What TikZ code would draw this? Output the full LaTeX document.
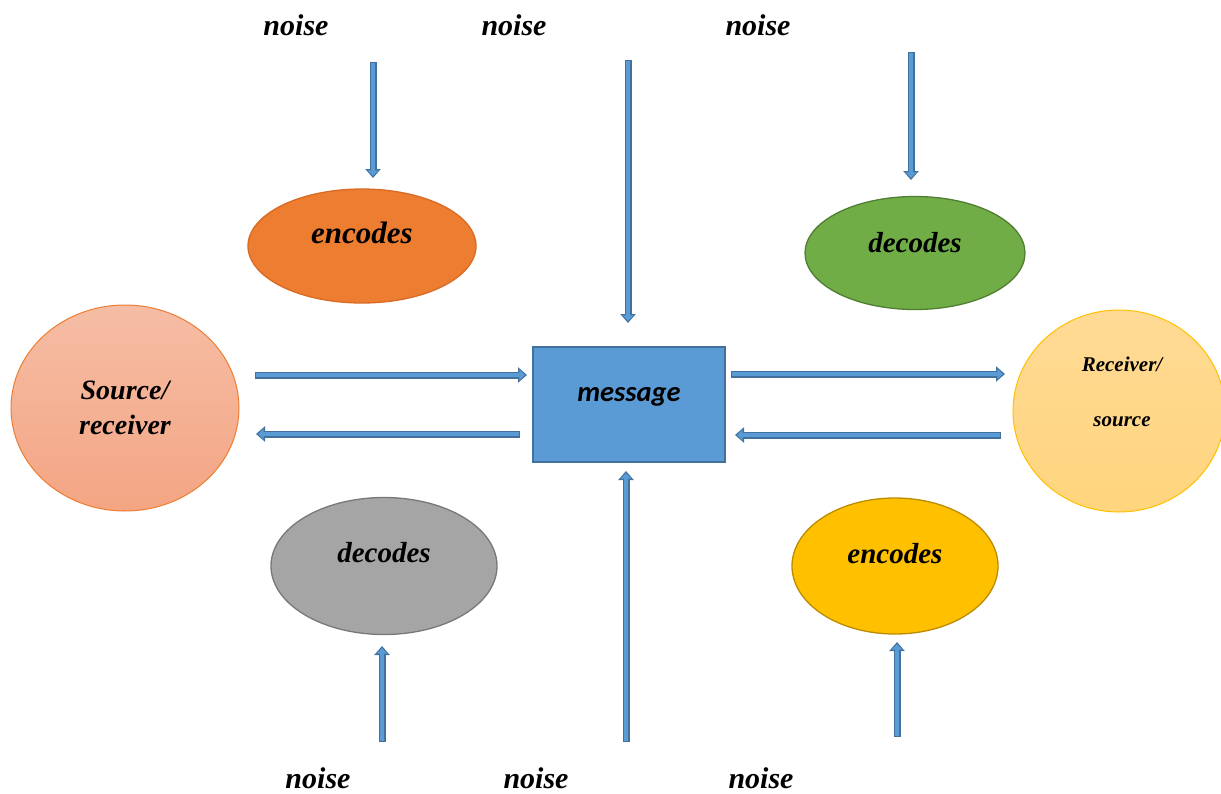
\documentclass[tikz,border=0pt]{standalone}
\usepackage{fontspec}
\setmainfont{Liberation Serif}
\newfontfamily\calib{Carlito}
\usetikzlibrary{shapes.geometric,arrows.meta}
\definecolor{edgeblue}{HTML}{41719C}
\definecolor{fillblue}{HTML}{5B9BD5}
\definecolor{orangeF}{HTML}{ED7D31}
\definecolor{orangeD}{HTML}{D86A22}
\definecolor{greenF}{HTML}{70AD47}
\definecolor{greenD}{HTML}{507E32}
\definecolor{grayF}{HTML}{A5A5A5}
\definecolor{grayD}{HTML}{787878}
\definecolor{yellowF}{HTML}{FFC000}
\definecolor{yellowD}{HTML}{BC8C00}
\definecolor{salmonT}{HTML}{F5BDA5}
\definecolor{salmonB}{HTML}{F4A583}
\definecolor{paleT}{HTML}{FFDA95}
\definecolor{paleB}{HTML}{FFD57D}
\tikzset{
  lbl/.style={font=\bfseries\itshape\fontsize{30}{36}\selectfont, inner sep=0pt},
  oval/.style={ellipse, line width=1.3pt, inner sep=0pt},
  barrow/.style={draw=fillblue, line width=4.2pt, shorten >=2pt, shorten <=1.4pt,
    -{Triangle[width=10.5pt,length=5.6pt]},
    preaction={draw=edgeblue, line width=7pt, shorten >=0pt, shorten <=0pt,
      -{Triangle[width=15pt,length=9pt]}}},
}
\begin{document}
\begin{tikzpicture}[x=1pt,y=-1pt]
\useasboundingbox (0,0) rectangle (1221,793);
% noise labels
\node[lbl] (nt1) at (296,25) {noise};
\node[lbl] (nt2) at (514,25) {noise};
\node[lbl] (nt3) at (758,25) {noise};
\node[lbl] (nb1) at (318,778) {noise};
\node[lbl] (nb2) at (536,778) {noise};
\node[lbl] (nb3) at (761,778) {noise};
% ellipses
\node[oval, fill=orangeF, draw=orangeD, minimum width=228pt, minimum height=114pt,
  label={[lbl, font=\bfseries\itshape\fontsize{31}{36}\selectfont, yshift=13pt]center:encodes}] (enc1) at (362,246) {};
\node[oval, fill=greenF, draw=greenD, minimum width=220pt, minimum height=113pt,
  label={[lbl, font=\bfseries\itshape\fontsize{29}{36}\selectfont, yshift=10pt]center:decodes}] (dec1) at (915,253) {};
\node[oval, fill=grayF, draw=grayD, minimum width=226pt, minimum height=137pt,
  label={[lbl, font=\bfseries\itshape\fontsize{29}{36}\selectfont, yshift=13pt]center:decodes}] (dec2) at (384,566) {};
\node[oval, fill=yellowF, draw=yellowD, minimum width=206pt, minimum height=136pt,
  label={[lbl, font=\bfseries\itshape\fontsize{29}{36}\selectfont, yshift=12pt]center:encodes}] (enc2) at (895,566) {};
\node[oval, draw=orangeF, line width=1pt, top color=salmonT, bottom color=salmonB,
  minimum width=228pt, minimum height=206pt, align=center,
  font=\bfseries\itshape\fontsize{28}{35}\selectfont] (src) at (125,408) {Source/\\receiver};
\node[oval, draw=yellowF, line width=1pt, top color=paleT, bottom color=paleB,
  minimum width=212pt, minimum height=202pt,
  label={[align=center, inner sep=0pt, xshift=3pt, yshift=19pt,
    font=\bfseries\itshape\fontsize{21}{55}\selectfont]center:Receiver/\\source}] (rcv) at (1119,411) {};
% message
\node[draw=edgeblue, fill=fillblue, line width=1.5pt, minimum width=192pt, minimum height=115pt,
  font=\calib\bfseries\itshape\fontsize{28.5}{34}\selectfont, inner sep=0pt] (msg) at (629,404.5) {\raisebox{20pt}{message}};
% coordinates for arrow ends
\coordinate (a1s) at (373,62);  \coordinate (a1e) at (373,178);
\coordinate (a2s) at (628,60);  \coordinate (a2e) at (628,323);
\coordinate (a3s) at (911,52);  \coordinate (a3e) at (911,180);
\coordinate (b1s) at (382,742); \coordinate (b1e) at (382,646);
\coordinate (b2s) at (626,742); \coordinate (b2e) at (626,471);
\coordinate (b3s) at (897,737); \coordinate (b3e) at (897,642);
\coordinate (h1s) at (255,375); \coordinate (h1e) at (527,375);
\coordinate (h2s) at (520,434); \coordinate (h2e) at (256,434);
\coordinate (h3s) at (731,374); \coordinate (h3e) at (1005,374);
\coordinate (h4s) at (1001,435); \coordinate (h4e) at (735,435);
\foreach \p in {a1,a2,a3,b1,b2,b3,h1,h2,h3,h4}{
  \draw[barrow] (\p s) -- (\p e);
}
\end{tikzpicture}
\end{document}
